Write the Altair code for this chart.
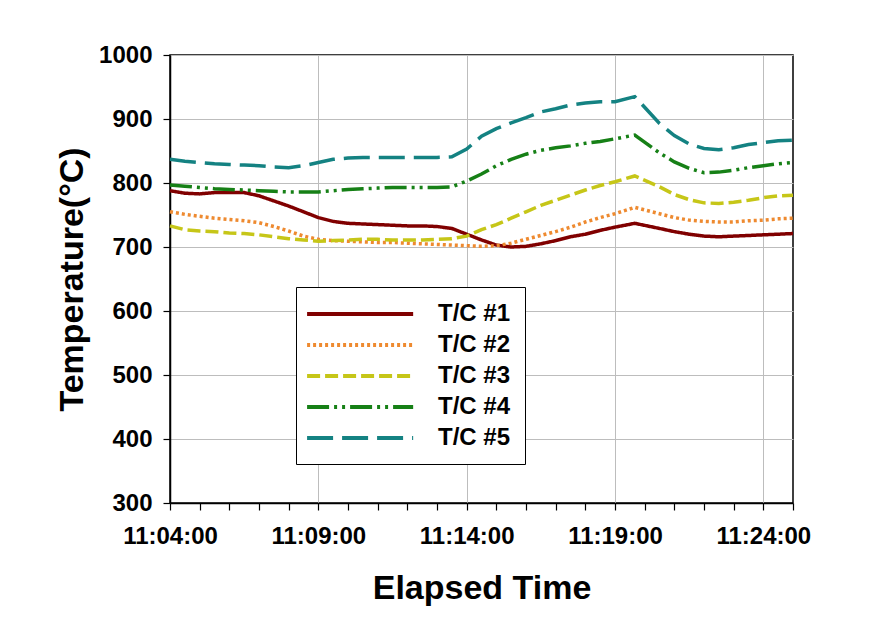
import altair as alt
import pandas as pd

# ---- data ----
times = [
    "11:04:00", "11:04:30", "11:05:00", "11:05:30", "11:06:00", "11:06:30",
    "11:07:00", "11:07:30", "11:08:00", "11:08:30", "11:09:00", "11:09:30",
    "11:10:00", "11:10:30", "11:11:00", "11:11:30", "11:12:00", "11:12:30",
    "11:13:00", "11:13:30", "11:14:00", "11:14:30", "11:15:00", "11:15:30",
    "11:16:00", "11:16:30", "11:17:00", "11:17:30", "11:18:00", "11:18:30",
    "11:19:00", "11:19:40", "11:20:30", "11:21:00", "11:21:30", "11:22:00",
    "11:22:30", "11:23:00", "11:23:30", "11:24:00", "11:24:30", "11:25:00",
]
series_names = ["T/C #1", "T/C #2", "T/C #3", "T/C #4", "T/C #5"]
tc1 = [788, 784, 783, 785, 785, 785, 780, 772, 764, 755,
       746, 740, 737, 736, 735, 734, 733, 733, 732, 729,
       720, 711, 703, 700, 701, 705, 710, 716, 720, 726,
       731, 737, 729, 724, 720, 717, 716, 717, 718, 719, 720, 721]
tc2 = [755, 751, 748, 745, 743, 741, 738, 732, 725, 717,
       712, 710, 709, 708, 707, 707, 706, 705, 704, 703,
       702, 701, 702, 706, 712, 718, 724, 731, 739, 746,
       752, 762, 752, 746, 742, 740, 739, 739, 741, 742, 744, 745]
tc3 = [733, 727, 725, 724, 722, 721, 719, 716, 713, 711,
       709, 710, 711, 712, 712, 711, 711, 711, 712, 713,
       717, 727, 735, 745, 755, 765, 773, 781, 789, 796,
       802, 811, 794, 782, 774, 769, 768, 770, 773, 777, 780, 781]
tc4 = [797, 795, 793, 791, 790, 789, 788, 787, 786, 786,
       786, 788, 790, 791, 792, 793, 793, 793, 793, 794,
       803, 814, 827, 837, 845, 851, 855, 858, 862, 865,
       869, 875, 847, 833, 823, 816, 817, 820, 824, 827, 830, 832]
tc5 = [837, 834, 832, 830, 829, 828, 827, 825, 824, 827,
       832, 837, 839, 840, 840, 840, 840, 840, 840, 841,
       853, 873, 885, 894, 902, 911, 916, 922, 925, 927,
       927, 935, 893, 874, 861, 854, 852, 855, 860, 863, 866, 867]
y_ticks = [300, 400, 500, 600, 700, 800, 900, 1000]
x_tick_minutes = list(range(4, 26))

# ---- styles ----
colors = ["#800000", "#EE8A30", "#C6C618", "#168016", "#148282"]
dashes = [[1, 0], [3, 3], [13, 5], [22, 5, 3, 5, 3, 5], [26, 9]]
FONT = "Liberation Sans"

rows = []
for name, vals in zip(series_names, [tc1, tc2, tc3, tc4, tc5]):
    for t, v in zip(times, vals):
        rows.append({"time": "2024-01-01T" + t, "series": name, "temp": v})
df = pd.DataFrame(rows)


def dt(m):
    return alt.DateTime(year=2024, month=1, date=1, hours=11, minutes=m, seconds=0)


major_test = "minutes(datum.value) % 5 == 4"

legend_args = dict(
    title=None, orient="none", legendX=126, legendY=232,
    symbolType="M-1.5,0H8.5", symbolSize=450, symbolStrokeWidth=4,
    labelFont=FONT, labelFontSize=24, labelFontWeight="bold", labelColor="black",
    labelOffset=102, rowPadding=6, padding=14,
    strokeColor="black", fillColor="white", cornerRadius=0,
)

chart = alt.Chart(df).mark_line(strokeWidth=3.5).encode(
    x=alt.X(
        "time:T",
        scale=alt.Scale(domain=[dt(4), dt(25)]),
        axis=alt.Axis(
            values=[dt(m) for m in x_tick_minutes],
            labelExpr=f"{major_test} ? timeFormat(datum.value, '%H:%M:%S') : ''",
            labelFlush=False, labelOverlap=False,
            gridOpacity={"condition": {"test": major_test, "value": 1}, "value": 0},
            title="Elapsed Time",
            titleY=95, titleBaseline="alphabetic",
            labelPadding=14, tickSize=7,
        ),
    ),
    y=alt.Y(
        "temp:Q",
        scale=alt.Scale(domain=[300, 1000], nice=False, zero=False),
        axis=alt.Axis(
            values=y_ticks, format="d", title="Temperature(°C)",
            titleX=-88, titleY=224, titleBaseline="alphabetic", titleAlign="center",
            labelPadding=11, tickSize=7,
        ),
    ),
    color=alt.Color("series:N", scale=alt.Scale(domain=series_names, range=colors),
                    legend=alt.Legend(**legend_args)),
    strokeDash=alt.StrokeDash("series:N", scale=alt.Scale(domain=series_names, range=dashes),
                              legend=alt.Legend(**legend_args)),
).properties(
    width=623, height=448,
    background="white",
    autosize=alt.AutoSizeParams(type="none"),
    padding={"left": 170, "top": 55, "right": 87, "bottom": 114},
).configure_view(
    stroke="black", strokeWidth=1.5
).configure_axis(
    labelFont=FONT, labelFontSize=24, labelFontWeight="bold", labelColor="black",
    titleFont=FONT, titleFontSize=34, titleFontWeight="bold", titleColor="black",
    domainColor="black", domainWidth=1.5, tickColor="black", tickWidth=1.2,
    gridColor="#BDBDBD", gridWidth=1,
)

chart.save("out.html", embed_options={"renderer": "svg", "actions": False})
